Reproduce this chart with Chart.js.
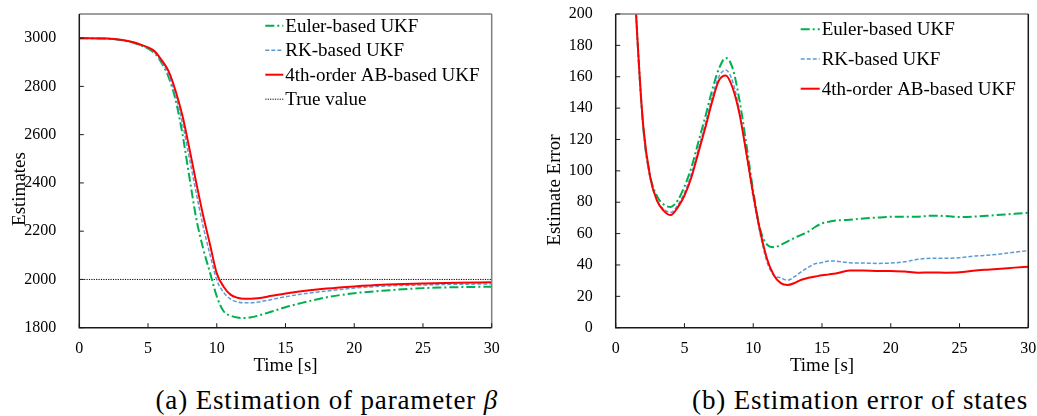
<!DOCTYPE html>
<html>
<head>
<meta charset="utf-8">
<script src="https://cdn.jsdelivr.net/npm/chart.js@4"></script>
<style>
  html, body { margin: 0; padding: 0; background: #fff; }
  body { width: 1037px; height: 416px; position: relative; overflow: hidden; font-family: "Liberation Serif", serif; }
  .box { position: absolute; top: 0; height: 380px; }
  #boxA { left: 0; width: 510px; }
  #boxB { left: 520px; width: 517px; }
  .cap { position: absolute; top: 387px; font-size: 27px; line-height: 27px; white-space: nowrap; color: #000; letter-spacing: 0.85px; }
  #capA { right: 539px; }
  #capB { right: 9px; }
</style>
</head>
<body>
<div class="box" id="boxA"><canvas id="chartA"></canvas></div>
<div class="box" id="boxB"><canvas id="chartB"></canvas></div>
<div class="cap" id="capA">(a) Estimation of parameter <i>β</i></div>
<div class="cap" id="capB">(b) Estimation error of states</div>
<script>
// (a) parameter estimate vs time
const timeA  = [0, 2, 3, 4, 4.5, 5, 5.5, 6, 6.5, 7, 7.5, 8, 8.5, 9, 9.5, 10, 10.5, 11, 11.5, 12, 12.5, 13, 14, 15, 16, 18, 20, 22, 25, 27.5, 30];
const eulerA = [3000, 2998, 2992, 2980, 2969, 2957, 2936, 2896, 2838, 2745, 2604, 2427, 2255, 2130, 2030, 1930, 1868, 1850, 1842, 1840, 1843, 1850, 1867, 1885, 1900, 1926, 1943, 1953, 1964, 1968, 1970];
const rkA    = [3000, 2998, 2993, 2981, 2970, 2959, 2940, 2900, 2848, 2762, 2648, 2505, 2360, 2222, 2105, 1998, 1946, 1919, 1907, 1903, 1903, 1906, 1917, 1928, 1938, 1952, 1964, 1972, 1977, 1980, 1981];
const abA    = [3000, 2998, 2993, 2982, 2972, 2962, 2945, 2908, 2862, 2782, 2679, 2545, 2403, 2267, 2147, 2025, 1970, 1937, 1924, 1920, 1920, 1922, 1932, 1942, 1950, 1962, 1971, 1978, 1983, 1986, 1988];
const timeTrue = [0, 30];
const trueVal  = [2000, 2000];

// (b) state estimation error vs time (curves come in from above 200)
const timeB  = [1, 1.5, 2, 2.5, 3, 3.5, 4, 4.5, 5, 5.5, 6, 6.5, 7, 7.5, 8, 8.5, 9, 9.5, 10, 10.5, 11, 11.5, 12, 12.5, 13, 13.5, 14, 14.5, 15, 15.5, 16, 17, 18, 19, 20, 21, 22, 23, 24, 25, 26, 27, 28, 29, 30];
const eulerB = [290, 197, 128, 97, 84, 78.5, 77, 81, 90, 102, 118, 134, 151, 165, 172, 165.5, 145, 117, 87, 63, 53, 51.3, 52.8, 55, 57.3, 59.2, 61.2, 64.2, 66.5, 67.6, 68.3, 68.8, 69.6, 70.2, 70.7, 70.8, 70.8, 71.4, 71.2, 70.6, 70.8, 71.3, 72, 72.6, 73.3];
const rkB    = [290, 196, 127, 95.5, 81.5, 75.5, 73.5, 78, 86, 98, 113.5, 129.5, 146.5, 160, 164.3, 157, 138, 111, 83, 60, 42, 33.5, 31.8, 30.2, 32.5, 35.7, 38.5, 40.8, 41.5, 42.6, 42.5, 41.4, 41.2, 41, 41.2, 42, 43.6, 44.3, 44.2, 44.6, 45.6, 46.2, 47, 48.2, 49.1];
const abB    = [290, 197, 129, 96.3, 81, 74.5, 71.8, 76.6, 84.3, 95.8, 111.3, 127, 143.7, 157.5, 160.8, 153, 136.3, 111.5, 85.1, 61.8, 44, 33.5, 28.4, 27.2, 28.5, 30.6, 31.8, 32.6, 33.4, 34, 34.6, 36.4, 36.4, 36.2, 36.2, 35.8, 35.1, 35.2, 35.1, 35.3, 36.3, 37, 37.6, 38.3, 38.9];

const SERIF = "'Liberation Serif', 'Times New Roman', serif";
const GREEN = "#00b050", BLUE = "#5b9bd5", RED = "#ff0000";
Chart.defaults.font.family = SERIF;
Chart.defaults.font.size = 16;
Chart.defaults.color = "#000";

const pts = (xs, ys) => xs.map((x, i) => ({ x, y: ys[i] }));

const line = (label, xs, ys, color, width, dash, order) => ({
  label, data: pts(xs, ys), borderColor: color, backgroundColor: color, borderWidth: width,
  borderDash: dash, pointRadius: 0, cubicInterpolationMode: "monotone", order,
});

// box frame, inward tick marks, rotated y title and the legend inside the plot
const framePlugin = {
  id: "frame",
  afterDraw(chart, args, o) {
    const { ctx, chartArea: a, scales: { x, y } } = chart;
    ctx.save();
    ctx.lineWidth = 1.5;
    ctx.strokeStyle = "#7f7f7f";
    ctx.beginPath(); ctx.moveTo(a.left, a.top); ctx.lineTo(a.right, a.top); ctx.stroke();
    ctx.strokeStyle = o.rightColor;
    ctx.beginPath(); ctx.moveTo(a.right, a.top); ctx.lineTo(a.right, a.bottom); ctx.stroke();
    ctx.strokeStyle = "#1a1a1a";
    ctx.beginPath(); ctx.moveTo(a.left, a.top); ctx.lineTo(a.left, a.bottom); ctx.lineTo(a.right, a.bottom); ctx.stroke();
    ctx.lineWidth = 1;
    x.ticks.forEach((t) => {
      const px = x.getPixelForValue(t.value);
      ctx.beginPath(); ctx.moveTo(px, a.bottom); ctx.lineTo(px, a.bottom - 4.5); ctx.stroke();
    });
    y.ticks.forEach((t) => {
      const py = y.getPixelForValue(t.value);
      ctx.beginPath(); ctx.moveTo(a.left, py); ctx.lineTo(a.left + 4.5, py); ctx.stroke();
    });

    ctx.fillStyle = "#000";
    ctx.font = "19px " + SERIF;
    ctx.textAlign = "center"; ctx.textBaseline = "middle";
    ctx.save();
    ctx.translate(o.titleX, o.titleY); ctx.rotate(-Math.PI / 2);
    ctx.fillText(o.title, 0, 0);
    ctx.restore();

    // legend
    const lg = o.legend;
    ctx.textAlign = "left";
    chart.data.datasets.forEach((ds, i) => {
      const cy = a.top + lg.y + i * lg.gap, x0 = a.left + lg.x;
      ctx.strokeStyle = ds.borderColor; ctx.lineWidth = ds.borderWidth;
      ctx.setLineDash(ds.borderDash || []);
      ctx.beginPath(); ctx.moveTo(x0, cy); ctx.lineTo(x0 + lg.len, cy); ctx.stroke();
      ctx.setLineDash([]);
      ctx.fillText(ds.label, x0 + lg.len + 2, cy + 1);
    });
    ctx.restore();
  },
};

function scales(ymin, ymax, ystep, yWidth) {
  const tickFont = { family: SERIF, size: 16 };
  return {
    x: {
      type: "linear", min: 0, max: 30,
      grid: { display: false }, border: { display: false },
      ticks: { stepSize: 5, padding: 3, color: "#000", font: tickFont, maxRotation: 0, callback: (v) => String(v) },
      title: { display: true, text: "Time [s]", color: "#000", font: { family: SERIF, size: 19 }, padding: { top: 0, bottom: 2.3 } },
      afterFit: (s) => { s.height = 52.3; s.paddingLeft = 0; s.paddingRight = 0; },
    },
    y: {
      min: ymin, max: ymax,
      grid: { display: false }, border: { display: false },
      ticks: { stepSize: ystep, includeBounds: false, padding: 15, color: "#000", font: tickFont, callback: (v) => String(v) },
      afterFit: (s) => { s.width = yWidth; s.paddingTop = 0; s.paddingBottom = 0; },
    },
  };
}

const base = (padRight) => ({
  responsive: true, maintainAspectRatio: false, animation: false,
  layout: { padding: { top: 14, right: padRight, left: 0, bottom: 0 } },
});

new Chart(document.getElementById("chartA"), {
  type: "line",
  data: { datasets: [
    line("Euler-based UKF", timeA, eulerA, GREEN, 2, [9, 3, 2, 3], 2),
    line("RK-based UKF", timeA, rkA, BLUE, 1.5, [4, 2], 1),
    line("4th-order AB-based UKF", timeA, abA, RED, 2, [], 0),
    line("True value", timeTrue, trueVal, "#000", 1, [1.2, 1.2], 3),
  ] },
  options: {
    ...base(18.3),
    scales: scales(1800, 3100, 200, 79.3),
    plugins: {
      legend: { display: false }, tooltip: { enabled: false },
      frame: { title: "Estimates", titleX: 20, titleY: 189, rightColor: "#7f7f7f",
        legend: { x: 186, y: 11.7, gap: 24.5, len: 18 } },
    },
  },
  plugins: [framePlugin],
});

new Chart(document.getElementById("chartB"), {
  type: "line",
  data: { datasets: [
    line("Euler-based UKF", timeB, eulerB, GREEN, 2, [9, 3, 2, 3], 2),
    line("RK-based UKF", timeB, rkB, BLUE, 1.5, [4, 2], 1),
    line("4th-order AB-based UKF", timeB, abB, RED, 2, [], 0),
  ] },
  options: {
    ...base(8.7),
    scales: scales(0, 200, 20, 95.7),
    plugins: {
      legend: { display: false }, tooltip: { enabled: false },
      frame: { title: "Estimate Error", titleX: 35, titleY: 190, rightColor: "#1a1a1a",
        legend: { x: 185, y: 15.3, gap: 29.7, len: 19 } },
    },
  },
  plugins: [framePlugin],
});
</script>
</body>
</html>
